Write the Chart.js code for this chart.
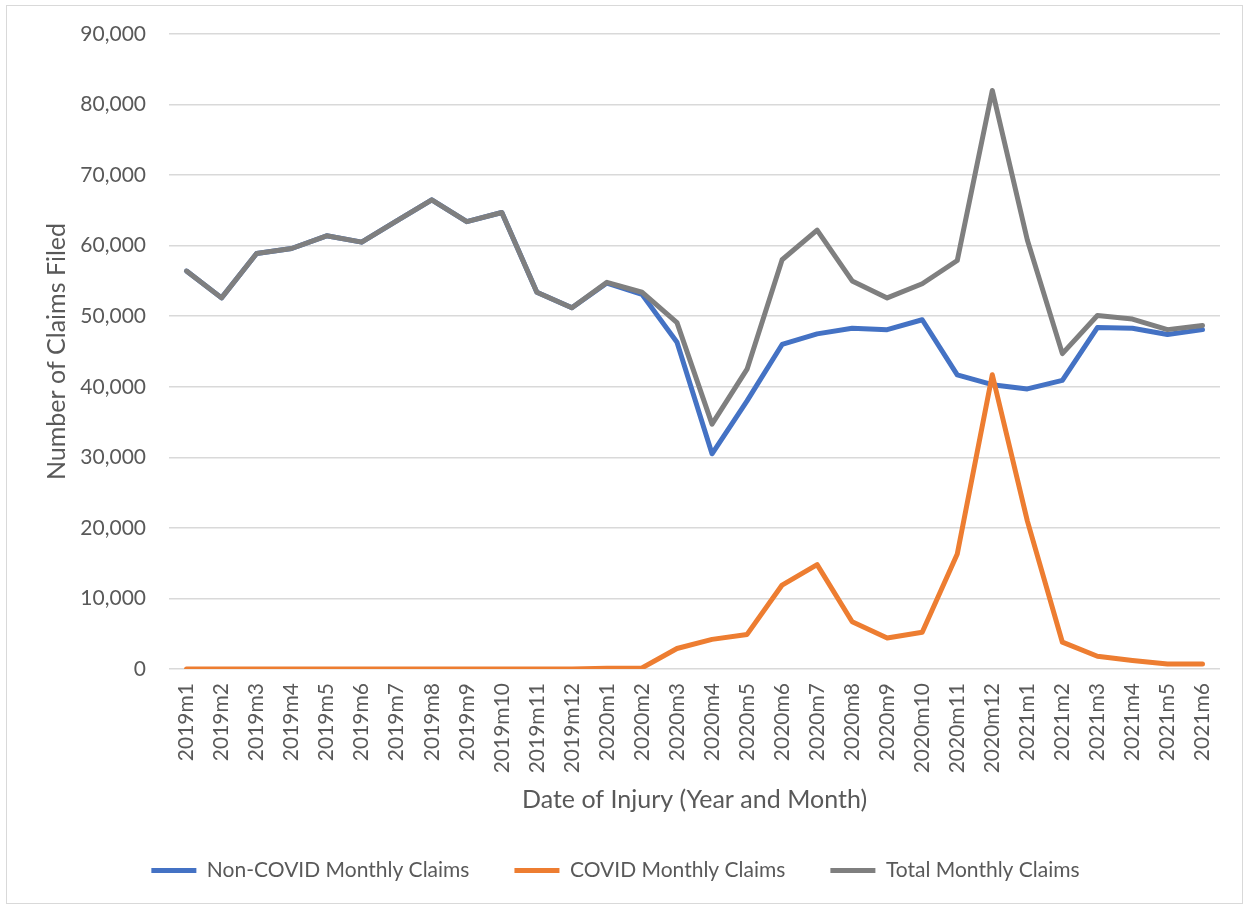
<!DOCTYPE html>
<html lang="en">
<head>
<meta charset="UTF-8">
<title>Monthly Claims</title>
<script src="https://cdn.jsdelivr.net/npm/chart.js"></script>
<style>
  body { margin: 0; background: #fff; }
  #frame { position: absolute; left: 6px; top: 5px; width: 1237px; height: 899px;
           border: 1px solid #d9d9d9; box-sizing: border-box; }
</style>
</head>
<body>
<div id="frame"><canvas id="grafico"></canvas></div>
<script>
  // months of injury, 2019m1 .. 2021m6
  const months = ['2019m1','2019m2','2019m3','2019m4','2019m5','2019m6','2019m7','2019m8','2019m9','2019m10','2019m11','2019m12',
                  '2020m1','2020m2','2020m3','2020m4','2020m5','2020m6','2020m7','2020m8','2020m9','2020m10','2020m11','2020m12',
                  '2021m1','2021m2','2021m3','2021m4','2021m5','2021m6'];

  const nonCovid = [56400, 52600, 58900, 59600, 61400, 60500, 63500, 66500, 63400, 64700, 53400, 51200,
                    54700, 53100, 46300, 30500, 38000, 46000, 47500, 48300, 48100, 49500, 41700, 40300,
                    39700, 40900, 48400, 48300, 47400, 48100];

  const covid = [0, 0, 0, 0, 0, 0, 0, 0, 0, 0, 0, 0,
                 100, 150, 2900, 4200, 4900, 11900, 14800, 6700, 4400, 5200, 16300, 41700,
                 21000, 3800, 1800, 1200, 700, 700];

  const total = [56400, 52600, 58900, 59600, 61400, 60500, 63500, 66500, 63400, 64700, 53400, 51200,
                 54800, 53400, 49100, 34700, 42500, 58000, 62200, 55000, 52600, 54600, 57900, 82000,
                 60800, 44700, 50100, 49600, 48100, 48700];

  const yTicks = [0, 10000, 20000, 30000, 40000, 50000, 60000, 70000, 80000, 90000];

  const txt = '#595959';
  const fuente = { family: 'Lato', size: 21 };
  const fuenteTitulo = { family: 'Lato', size: 25 };

  function serie(label, data, color, order) {
    return {
      label: label, data: data, order: order,
      borderColor: color, backgroundColor: color,
      borderWidth: 5, pointRadius: 0, tension: 0,
      borderJoinStyle: 'round', borderCapStyle: 'round'
    };
  }

  new Chart(document.getElementById('grafico'), {
    type: 'line',
    data: {
      labels: months,
      datasets: [
        serie('Non-COVID Monthly Claims', nonCovid, '#4472C4', 2),
        serie('COVID Monthly Claims', covid, '#ED7D31', 1),
        serie('Total Monthly Claims', total, '#7F7F7F', 0)
      ]
    },
    options: {
      responsive: true,
      maintainAspectRatio: false,
      animation: false,
      layout: { padding: { top: 28, left: 0, right: 18, bottom: 12 } },
      plugins: {
        tooltip: { enabled: false },
        legend: {
          position: 'bottom',
          labels: {
            color: txt, font: fuente, boxWidth: 45, boxHeight: 5, padding: 45,
            generateLabels: chart => Chart.defaults.plugins.legend.labels.generateLabels(chart)
              .map(l => Object.assign(l, { lineWidth: 0 }))
              .sort((a, b) => a.datasetIndex - b.datasetIndex)
          }
        }
      },
      scales: {
        x: {
          offset: true,
          grid: { display: false, drawTicks: false },
          border: { display: false },
          ticks: { color: txt, font: fuente, minRotation: 90, maxRotation: 90, autoSkip: false, padding: 14 },
          title: { display: true, text: 'Date of Injury (Year and Month)', color: txt, font: fuenteTitulo,
                   padding: { top: 0, bottom: 0 } },
          afterFit: s => { s.height = 146; }
        },
        y: {
          min: 0, max: 90000,
          afterBuildTicks: s => { s.ticks = yTicks.map(v => ({ value: v })); },
          grid: { color: '#d9d9d9', lineWidth: 1.5, drawTicks: false },
          border: { display: false },
          ticks: { color: txt, font: fuente, padding: 23, callback: v => v.toLocaleString('en-US') },
          title: { display: true, text: 'Number of Claims Filed', color: txt, font: fuenteTitulo,
                   padding: { top: 35, bottom: 0 } },
          afterFit: s => { s.width = 162; s.paddingTop = 12; s.paddingBottom = 12; }
        }
      }
    }
  });
</script>
</body>
</html>
